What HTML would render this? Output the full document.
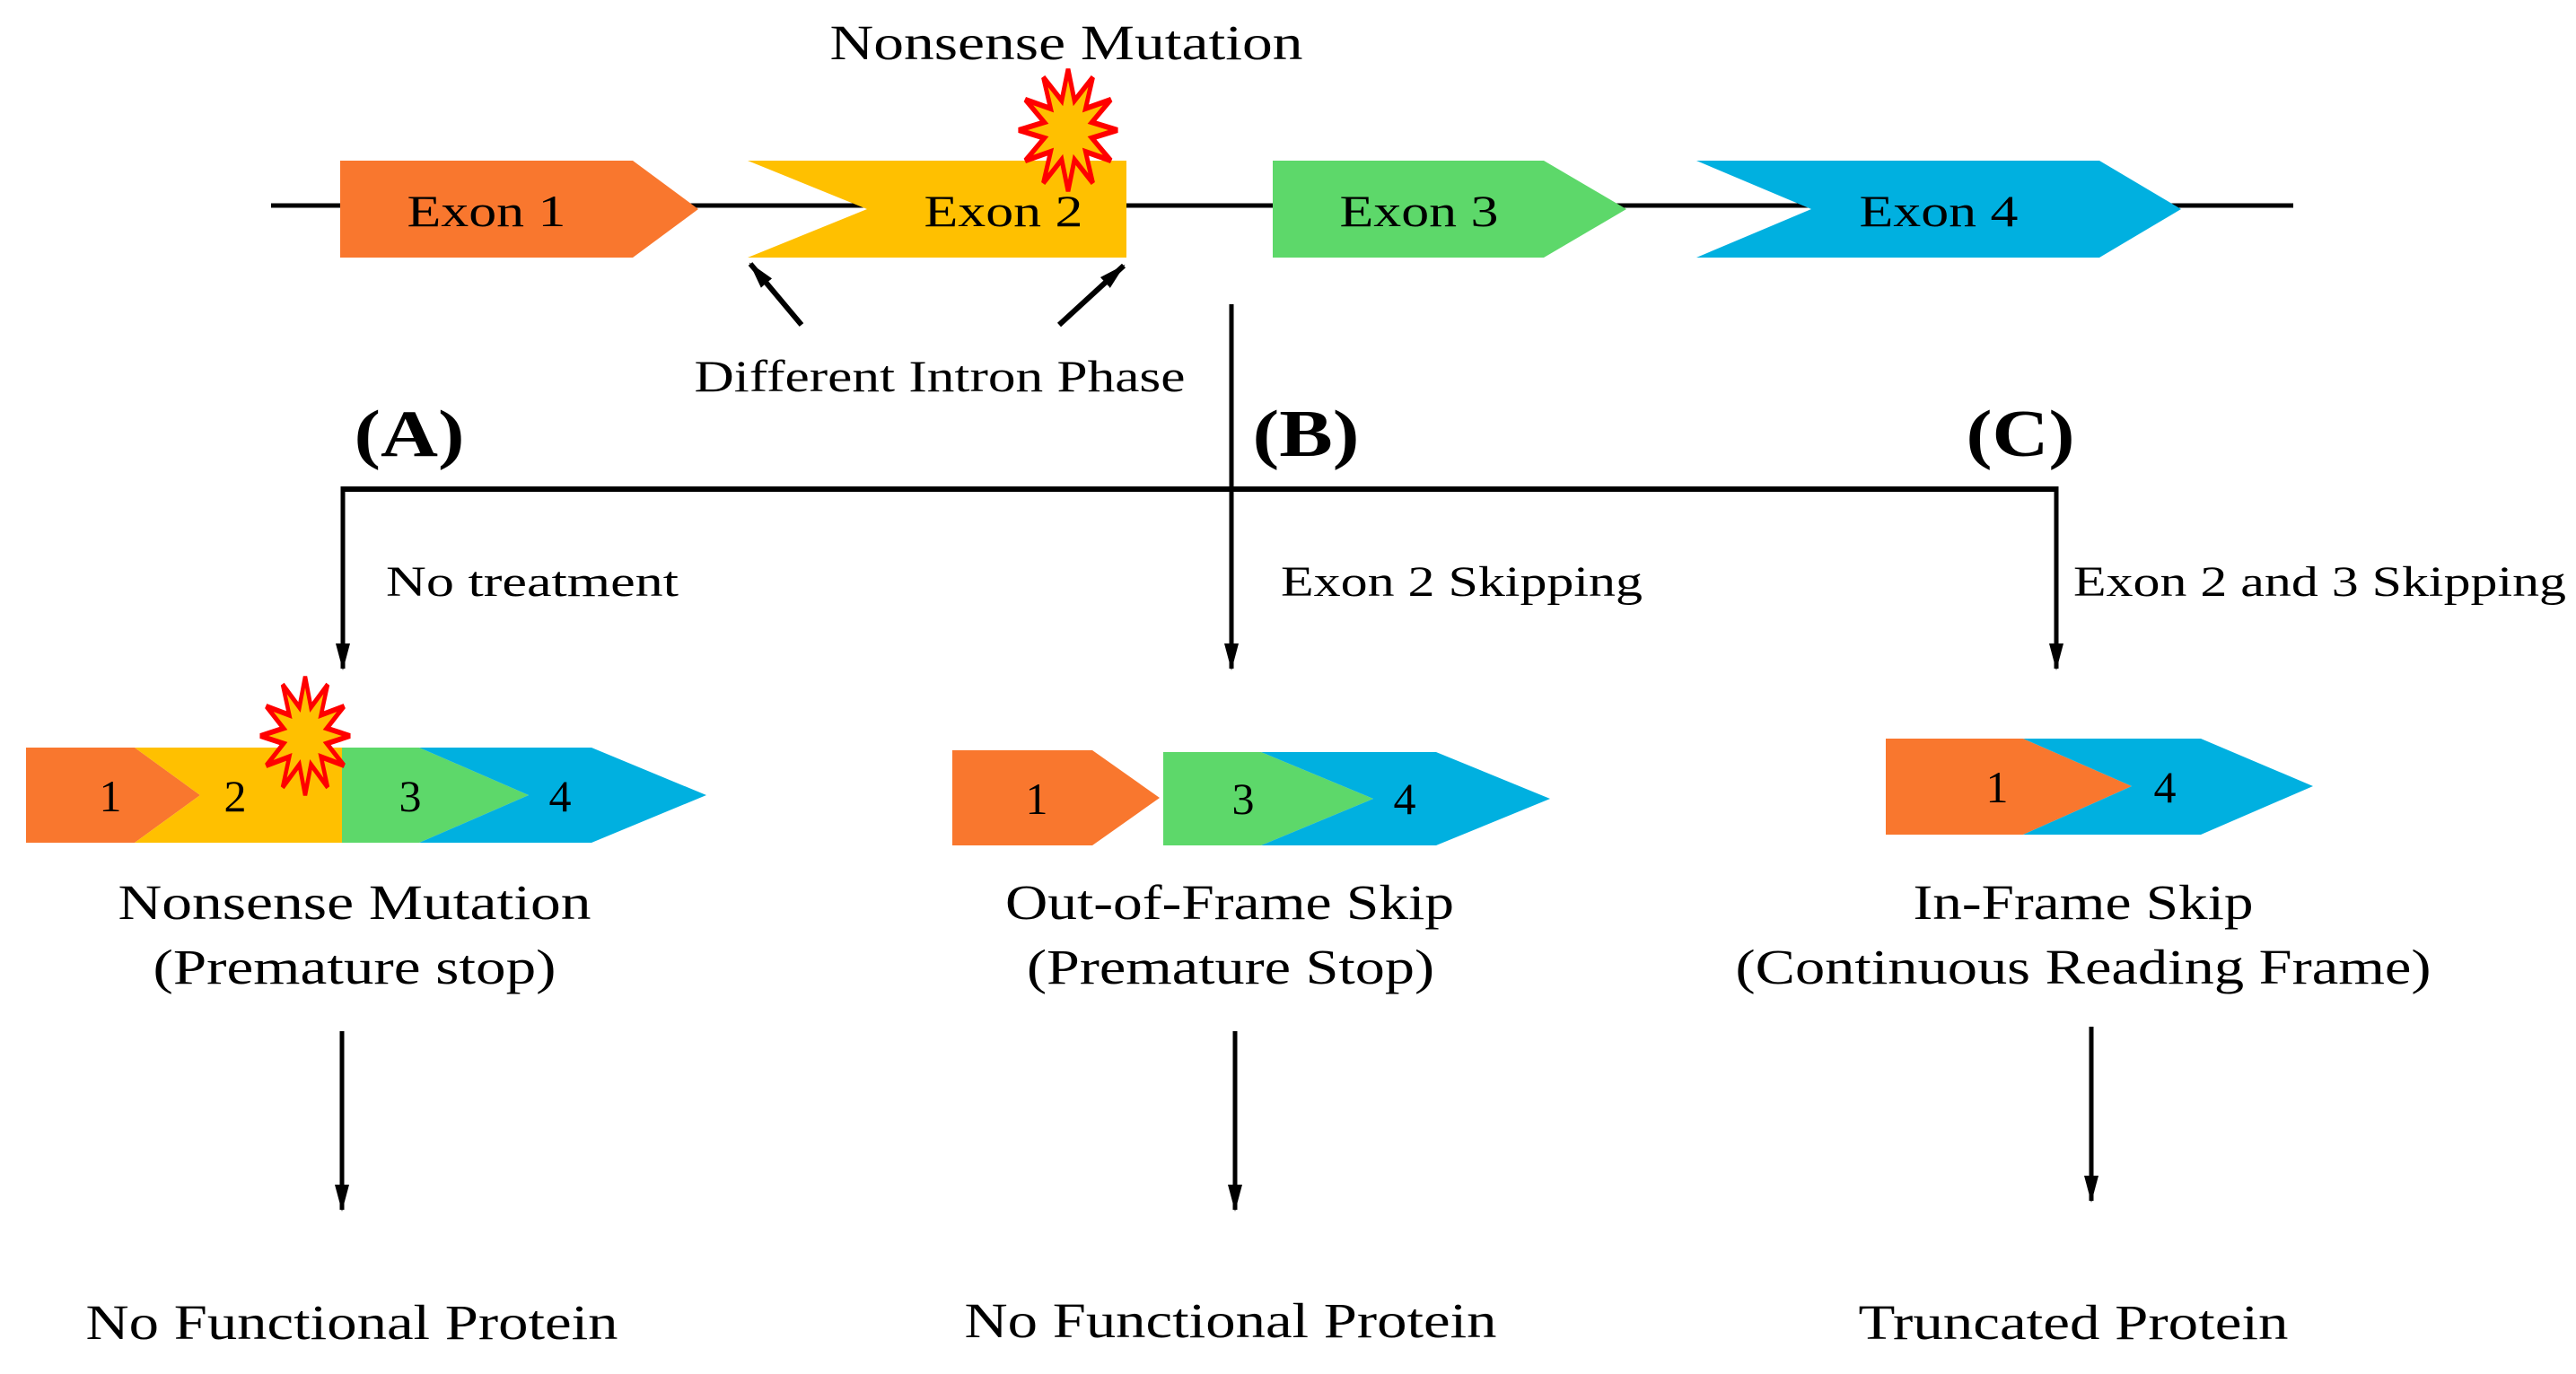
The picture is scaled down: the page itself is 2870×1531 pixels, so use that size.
<!DOCTYPE html>
<html><head><meta charset="utf-8"><style>html,body{margin:0;padding:0;background:#fff}svg{display:block}text{font-family:"Liberation Serif",serif;fill:#000}</style></head>
<body>
<svg width="2870" height="1531" viewBox="0 0 2870 1531" xmlns="http://www.w3.org/2000/svg">
<defs>
<marker id="ah2" markerWidth="30" markerHeight="20" refX="28" refY="10" orient="auto" markerUnits="userSpaceOnUse"><path d="M0,2 L30,10 L0,18 z" fill="#000"/></marker>
</defs>

<!-- top gene line -->
<line x1="302" y1="229" x2="2555" y2="229" stroke="#000" stroke-width="5"/>
<polygon points="379,179 705,179 778,233 705,287 379,287" fill="#F9772E"/>
<polygon points="833,179 1255,179 1255,287 833,287 966,233" fill="#FFC000"/>
<polygon points="1418,179 1720,179 1812,233 1720,287 1418,287" fill="#5DD86A"/>
<polygon points="1890,179 2339,179 2430,233 2339,287 1890,287 2018,233" fill="#00B0E0"/>
<text x="542" y="252" font-size="50" text-anchor="middle" textLength="177" lengthAdjust="spacingAndGlyphs">Exon 1</text>
<text x="1118" y="252" font-size="50" text-anchor="middle" textLength="177" lengthAdjust="spacingAndGlyphs">Exon 2</text>
<text x="1581" y="252" font-size="50" text-anchor="middle" textLength="177" lengthAdjust="spacingAndGlyphs">Exon 3</text>
<text x="2160" y="252" font-size="50" text-anchor="middle" textLength="177" lengthAdjust="spacingAndGlyphs">Exon 4</text>
<polygon transform="translate(1190,145) scale(55,68)" fill="#FFC000" stroke="#FF0000" stroke-width="0.09" points="1,0 .483,.129 .866,.5 .354,.354 .5,.866 .129,.483 0,1 -.129,.483 -.5,.866 -.354,.354 -.866,.5 -.483,.129 -1,0 -.483,-.129 -.866,-.5 -.354,-.354 -.5,-.866 -.129,-.483 0,-1 .129,-.483 .5,-.866 .354,-.354 .866,-.5 .483,-.129"/>
<text x="1188" y="66" font-size="55" text-anchor="middle" textLength="527" lengthAdjust="spacingAndGlyphs">Nonsense Mutation</text>

<!-- intron phase arrows -->
<line x1="893" y1="362" x2="836" y2="294" stroke="#000" stroke-width="6" marker-end="url(#ah2)"/>
<line x1="1180" y1="362" x2="1252" y2="296" stroke="#000" stroke-width="6" marker-end="url(#ah2)"/>
<text x="1047" y="436" font-size="50" text-anchor="middle" textLength="547" lengthAdjust="spacingAndGlyphs">Different Intron Phase</text>

<!-- branches -->
<line x1="1372" y1="339" x2="1372" y2="745" stroke="#000" stroke-width="5" marker-end="url(#ah2)"/>
<line x1="382" y1="545" x2="2291" y2="545" stroke="#000" stroke-width="6"/>
<line x1="382" y1="542" x2="382" y2="745" stroke="#000" stroke-width="5" marker-end="url(#ah2)"/>
<line x1="2291" y1="542" x2="2291" y2="745" stroke="#000" stroke-width="5" marker-end="url(#ah2)"/>
<text x="456" y="508" font-size="74" font-weight="bold" text-anchor="middle" textLength="123" lengthAdjust="spacingAndGlyphs">(A)</text>
<text x="1455" y="508" font-size="74" font-weight="bold" text-anchor="middle" textLength="119" lengthAdjust="spacingAndGlyphs">(B)</text>
<text x="2251" y="508" font-size="74" font-weight="bold" text-anchor="middle" textLength="121" lengthAdjust="spacingAndGlyphs">(C)</text>
<text x="430" y="664" font-size="48" textLength="326" lengthAdjust="spacingAndGlyphs">No treatment</text>
<text x="1427" y="664" font-size="48" textLength="403" lengthAdjust="spacingAndGlyphs">Exon 2 Skipping</text>
<text x="2310" y="664" font-size="48" textLength="549" lengthAdjust="spacingAndGlyphs">Exon 2 and 3 Skipping</text>

<!-- A construct -->
<polygon points="29,833 150,833 223,886 150,939 29,939" fill="#F9772E"/>
<polygon points="150,833 381,833 381,939 150,939 223,886" fill="#FFC000"/>
<polygon points="381,833 467,833 589,886 467,939 381,939" fill="#5DD86A"/>
<polygon points="467,833 659,833 787,886 659,939 467,939 589,886" fill="#00B0E0"/>
<polygon transform="translate(340,820) scale(50,66)" fill="#FFC000" stroke="#FF0000" stroke-width="0.09" points="1,0 .483,.129 .866,.5 .354,.354 .5,.866 .129,.483 0,1 -.129,.483 -.5,.866 -.354,.354 -.866,.5 -.483,.129 -1,0 -.483,-.129 -.866,-.5 -.354,-.354 -.5,-.866 -.129,-.483 0,-1 .129,-.483 .5,-.866 .354,-.354 .866,-.5 .483,-.129"/>
<text x="123" y="904" font-size="50" text-anchor="middle">1</text>
<text x="262" y="904" font-size="50" text-anchor="middle">2</text>
<text x="457" y="904" font-size="50" text-anchor="middle">3</text>
<text x="624" y="904" font-size="50" text-anchor="middle">4</text>

<!-- B construct -->
<polygon points="1061,836 1217,836 1292,889 1217,942 1061,942" fill="#F9772E"/>
<polygon points="1296,838 1405,838 1530,890 1405,942 1296,942" fill="#5DD86A"/>
<polygon points="1405,838 1600,838 1727,890 1600,942 1405,942 1530,890" fill="#00B0E0"/>
<text x="1155" y="907" font-size="50" text-anchor="middle">1</text>
<text x="1385" y="907" font-size="50" text-anchor="middle">3</text>
<text x="1565" y="907" font-size="50" text-anchor="middle">4</text>

<!-- C construct -->
<polygon points="2101,823 2254,823 2375,876 2254,930 2101,930" fill="#F9772E"/>
<polygon points="2254,823 2452,823 2577,876 2452,930 2254,930 2375,876" fill="#00B0E0"/>
<text x="2225" y="894" font-size="50" text-anchor="middle">1</text>
<text x="2412" y="894" font-size="50" text-anchor="middle">4</text>

<!-- captions -->
<text x="395" y="1024" font-size="55" text-anchor="middle" textLength="527" lengthAdjust="spacingAndGlyphs">Nonsense Mutation</text>
<text x="395" y="1096" font-size="55" text-anchor="middle" textLength="449" lengthAdjust="spacingAndGlyphs">(Premature stop)</text>
<text x="1370" y="1024" font-size="55" text-anchor="middle" textLength="500" lengthAdjust="spacingAndGlyphs">Out-of-Frame Skip</text>
<text x="1371" y="1096" font-size="55" text-anchor="middle" textLength="454" lengthAdjust="spacingAndGlyphs">(Premature Stop)</text>
<text x="2321" y="1024" font-size="55" text-anchor="middle" textLength="379" lengthAdjust="spacingAndGlyphs">In-Frame Skip</text>
<text x="2321" y="1096" font-size="55" text-anchor="middle" textLength="775" lengthAdjust="spacingAndGlyphs">(Continuous Reading Frame)</text>

<!-- lower arrows -->
<line x1="381" y1="1149" x2="381" y2="1348" stroke="#000" stroke-width="5" marker-end="url(#ah2)"/>
<line x1="1376" y1="1149" x2="1376" y2="1348" stroke="#000" stroke-width="5" marker-end="url(#ah2)"/>
<line x1="2330" y1="1144" x2="2330" y2="1338" stroke="#000" stroke-width="5" marker-end="url(#ah2)"/>

<text x="392" y="1492" font-size="55" text-anchor="middle" textLength="593" lengthAdjust="spacingAndGlyphs">No Functional Protein</text>
<text x="1371" y="1490" font-size="55" text-anchor="middle" textLength="593" lengthAdjust="spacingAndGlyphs">No Functional Protein</text>
<text x="2310" y="1492" font-size="55" text-anchor="middle" textLength="479" lengthAdjust="spacingAndGlyphs">Truncated Protein</text>
</svg>
</body></html>
